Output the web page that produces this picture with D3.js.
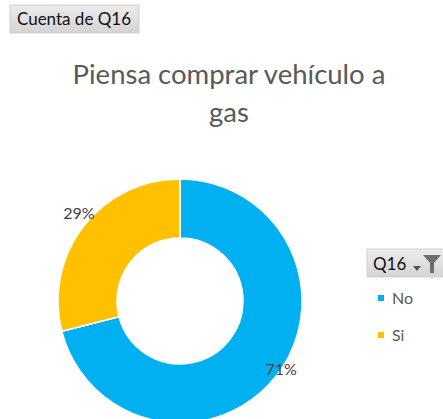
<!DOCTYPE html>
<html>
<head>
<meta charset="utf-8">
<style>
  body { margin: 0; background: #fff; }
  svg { display: block; font-family: Lato, "Noto Sans", sans-serif; }
</style>
</head>
<body>
<div id="chart"></div>
<script src="https://d3js.org/d3.v7.min.js"></script>
<script>
  // data
  const categories = ["No", "Si"];
  const values = [71, 29];
  const colors = ["#00B0F0", "#FFC000"];
  const titleLines = ["Piensa comprar vehículo a", "gas"];
  const fieldName = "Q16";
  const buttonText = "Cuenta de Q16";

  const width = 443, height = 419;
  const cx = 180, cy = 301;
  const outerR = 122, innerR = 63;

  const svg = d3.select("#chart").append("svg")
    .attr("width", width)
    .attr("height", height);

  const defs = svg.append("defs");
  const grad = defs.append("linearGradient")
    .attr("id", "btn").attr("x1", 0).attr("y1", 0).attr("x2", 0).attr("y2", 1);
  grad.append("stop").attr("offset", "0%").attr("stop-color", "#ececec");
  grad.append("stop").attr("offset", "100%").attr("stop-color", "#d4d4d4");

  // "Cuenta de Q16" field button
  svg.append("rect")
    .attr("x", 10).attr("y", 5).attr("width", 129).attr("height", 28)
    .attr("fill", "url(#btn)")
    .attr("stroke", "#cfcfcf");
  svg.append("text")
    .attr("x", 74).attr("y", 25)
    .attr("text-anchor", "middle")
    .attr("font-size", 17)
    .attr("fill", "#111")
    .text(buttonText);

  // title
  svg.selectAll(".title")
    .data(titleLines)
    .enter().append("text")
    .attr("class", "title")
    .attr("x", 229)
    .attr("y", (d, i) => 84 + i * 38)
    .attr("text-anchor", "middle")
    .attr("font-size", 27.5)
    .attr("fill", "#595959")
    .text(d => d);

  // donut
  const pie = d3.pie().sort(null).value(d => d.value);
  const arcs = pie(categories.map((c, i) => ({ cat: c, value: values[i] })));
  const arc = d3.arc().innerRadius(innerR).outerRadius(outerR);
  const labelArc = d3.arc().innerRadius(128).outerRadius(128);

  const g = svg.append("g")
    .attr("transform", "translate(" + cx + "," + cy + ")");

  g.selectAll("path")
    .data(arcs)
    .enter().append("path")
    .attr("d", arc)
    .attr("fill", (d, i) => colors[i])
    .attr("stroke", "#fff")
    .attr("stroke-width", 1.5);

  const total = d3.sum(values);
  g.selectAll(".lbl")
    .data(arcs)
    .enter().append("text")
    .attr("class", "lbl")
    .attr("transform", d => "translate(" + labelArc.centroid(d) + ")")
    .attr("text-anchor", "middle")
    .attr("dy", "-0.25em")
    .attr("font-size", 16)
    .attr("fill", "#404040")
    .text(d => Math.round(d.data.value / total * 100) + "%");

  // legend header
  svg.append("rect")
    .attr("x", 367).attr("y", 249).attr("width", 78).attr("height", 28)
    .attr("fill", "url(#btn)")
    .attr("stroke", "#cfcfcf");
  svg.append("text")
    .attr("x", 373).attr("y", 270)
    .attr("font-size", 17)
    .attr("fill", "#111")
    .text(fieldName);
  // dropdown arrow + filter icon
  svg.append("path")
    .attr("d", "M413,266 L421,266 L417,271 Z")
    .attr("fill", "#555");
  svg.append("path")
    .attr("d", "M423,255 L441,255 L434,263 L434,273 L430,273 L430,263 Z")
    .attr("fill", "#6e6e6e");

  // legend items
  const legend = svg.selectAll(".leg")
    .data(categories)
    .enter().append("g")
    .attr("class", "leg")
    .attr("transform", (d, i) => "translate(378," + (295 + i * 37) + ")");
  legend.append("rect")
    .attr("width", 6).attr("height", 6)
    .attr("fill", (d, i) => colors[i]);
  legend.append("text")
    .attr("x", 14).attr("y", 9)
    .attr("font-size", 16)
    .attr("fill", "#595959")
    .text(d => d);
</script>
</body>
</html>
